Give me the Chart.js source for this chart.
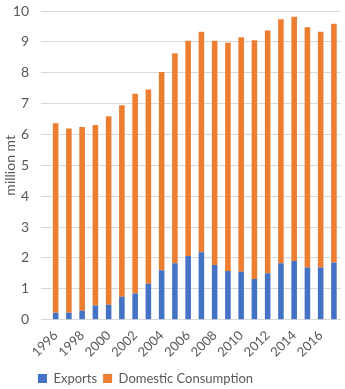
<!DOCTYPE html>
<html><head><meta charset="utf-8">
<script src="https://cdn.jsdelivr.net/npm/chart.js@4/dist/chart.umd.min.js"></script>
<style>html,body{margin:0;padding:0;background:#fff}#w{width:345px;height:389px}</style>
</head><body><div id="w"><canvas id="c"></canvas></div>
<script>
const years = ["1996","1997","1998","1999","2000","2001","2002","2003","2004","2005","2006","2007","2008","2009","2010","2011","2012","2013","2014","2015","2016","2017"];
const exportsVals = [0.22,0.22,0.29,0.46,0.48,0.74,0.85,1.16,1.60,1.83,2.06,2.18,1.77,1.58,1.55,1.32,1.50,1.83,1.90,1.69,1.69,1.85];
const totalVals = [6.36,6.19,6.24,6.31,6.59,6.95,7.32,7.46,8.02,8.63,9.04,9.33,9.04,8.97,9.15,9.05,9.37,9.73,9.81,9.47,9.33,9.59];
const domesticVals = totalVals.map((t,i)=>+(t-exportsVals[i]).toFixed(2));
const yTicks = [0,1,2,3,4,5,6,7,8,9,10];
const font = "Lato, 'Liberation Sans', sans-serif";
const shiftLegend = {id:'shiftLegend', afterLayout(chart){ const l=chart.legend; if(l){ l.left-=27; l.right-=27; l.top+=6; l.bottom+=6; } }};
new Chart(document.getElementById('c'), {
  type: 'bar',
  data: { labels: years, datasets: [
    {label:'Exports', data: exportsVals, backgroundColor:'#4472C4', barPercentage:0.42, categoryPercentage:1},
    {label:'Domestic Consumption', data: domesticVals, backgroundColor:'#ED7D31', barPercentage:0.42, categoryPercentage:1}
  ]},
  plugins:[shiftLegend],
  options: {
    responsive:true, maintainAspectRatio:false, animation:false,
    layout:{padding:{left:2,right:2,top:11,bottom:0}},
    plugins:{
      legend:{position:'bottom', labels:{boxWidth:9, boxHeight:9, color:'#595959', font:{family:font,size:13}, padding:6}},
      tooltip:{enabled:false}
    },
    scales:{
      x:{stacked:true, grid:{display:false}, border:{color:'#d9d9d9'},
         ticks:{autoSkip:false, maxRotation:45, minRotation:45, padding:0, color:'#595959', font:{family:font,size:13},
           callback:function(v,i){return i%2===0 ? years[i] : '';}}},
      y:{stacked:true, min:0, max:10, grid:{color:'#d9d9d9'}, border:{display:false},
         afterBuildTicks:(s)=>{s.ticks = yTicks.map(v=>({value:v}));},
         afterFit:(s)=>{s.paddingTop=0; s.width=47;},
         ticks:{color:'#595959', font:{family:font,size:14}, padding:12},
         title:{display:true, text:'million mt', color:'#595959', font:{family:font,size:14}, padding:{top:0,bottom:2}}}
    }
  }
});
</script></body></html>
